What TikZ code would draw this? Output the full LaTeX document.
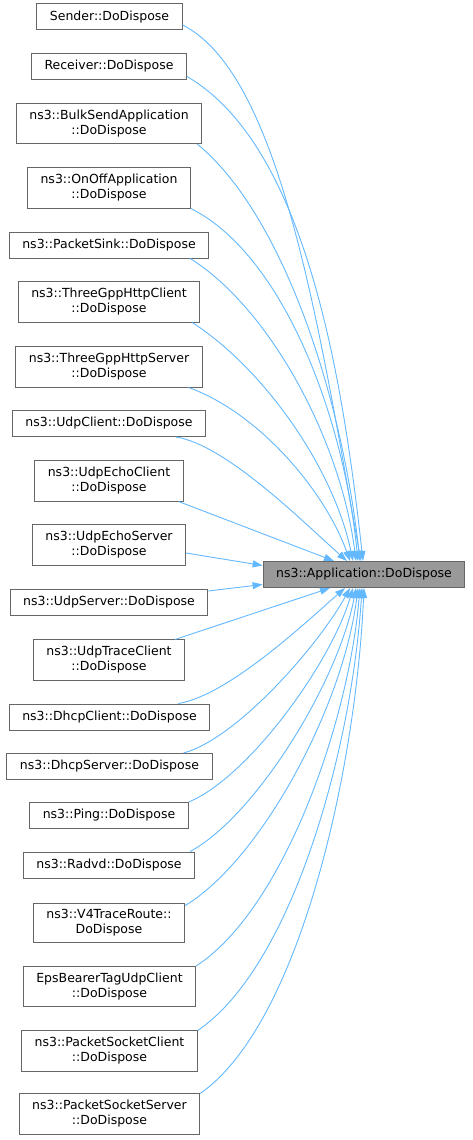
\documentclass[tikz,border=0pt]{standalone}
\usepackage{fontspec}
\setmainfont{DejaVu Sans}
\usetikzlibrary{arrows.meta}
\definecolor{edgeblue}{HTML}{63B8FF}
\definecolor{boxgray}{HTML}{666666}
\definecolor{appgray}{HTML}{999999}
\begin{document}
\begin{tikzpicture}[
      x=1pt, y=-1pt,
      fn/.style={rectangle, draw=boxgray, line width=1pt, fill=white, align=center,
        font=\fontsize{12.5}{15}\selectfont, inner xsep=13pt, inner ysep=6.5pt, minimum height=26pt},
      target/.style={fn, fill=appgray},
      edge/.style={-{Triangle[length=10pt,width=7pt]}, line width=0.9pt, draw=edgeblue}
    ]
    \useasboundingbox (0,0) rectangle (472,1140);

    \node[target] (app) at (364,574.5) {ns3::Application::DoDispose};

    \node[fn] (sender) at (109.5,17) {Sender::DoDispose};
    \node[fn] (receiver) at (109,66.5) {Receiver::DoDispose};
    \node[fn] (bulksend) at (109,123.5) {ns3::BulkSendApplication\\::DoDispose};
    \node[fn] (onoff) at (109,188) {ns3::OnOffApplication\\::DoDispose};
    \node[fn] (pktsink) at (109,245) {ns3::PacketSink::DoDispose};
    \node[fn] (httpclient) at (109,302) {ns3::ThreeGppHttpClient\\::DoDispose};
    \node[fn] (httpserver) at (109,367) {ns3::ThreeGppHttpServer\\::DoDispose};
    \node[fn] (udpclient) at (109,423.5) {ns3::UdpClient::DoDispose};
    \node[fn] (echoclient) at (109,481) {ns3::UdpEchoClient\\::DoDispose};
    \node[fn] (echoserver) at (109,545) {ns3::UdpEchoServer\\::DoDispose};
    \node[fn] (udpserver) at (109,602) {ns3::UdpServer::DoDispose};
    \node[fn] (traceclient) at (109,660) {ns3::UdpTraceClient\\::DoDispose};
    \node[fn] (dhcpclient) at (109.5,717) {ns3::DhcpClient::DoDispose};
    \node[fn] (dhcpserver) at (109.5,766.5) {ns3::DhcpServer::DoDispose};
    \node[fn] (ping) at (109,815.5) {ns3::Ping::DoDispose};
    \node[fn] (radvd) at (109,865) {ns3::Radvd::DoDispose};
    \node[fn] (v4trace) at (109,923) {ns3::V4TraceRoute::\\DoDispose};
    \node[fn] (epsbearer) at (109.5,986.5) {EpsBearerTagUdpClient\\::DoDispose};
    \node[fn] (psclient) at (109.5,1051) {ns3::PacketSocketClient\\::DoDispose};
    \node[fn] (psserver) at (109.5,1114) {ns3::PacketSocketServer\\::DoDispose};

    \draw[edge] ([yshift=-8pt]sender.east) .. controls +(100,50) and +(-40,-220) .. ([xshift=-3pt]app.north);
    \draw[edge] ([yshift=-10pt]receiver.east) .. controls +(120,70) and +(-20,-180) .. ([xshift=-1pt]app.north);
    \draw[edge] ([xshift=-5pt]bulksend.south east) .. controls +(80,65) and +(-20,-180) .. ([xshift=-4pt]app.north);
    \draw[edge] (onoff.south east) .. controls +(90,45) and +(-15,-150) .. ([xshift=-6pt]app.north);
    \draw[edge] ([xshift=-19pt]pktsink.south east) .. controls +(80,50) and +(-15,-120) .. ([xshift=-8pt]app.north);
    \draw[edge] ([xshift=-8pt]httpclient.south east) .. controls +(70,45) and +(-20,-95) .. ([xshift=-11pt]app.north);
    \draw[edge] ([xshift=-14pt]httpserver.south east) .. controls +(70,25) and +(-25,-70) .. ([xshift=-14pt]app.north);
    \draw[edge] ([xshift=-30pt]udpclient.south east) .. controls +(50,8) and +(-45,-40) .. ([xshift=-17pt]app.north);
    \draw[edge] ([xshift=-5pt]echoclient.south east) -- ([xshift=-30pt]app.north);
    \draw[edge] ([yshift=-8pt]echoserver.east) -- ([yshift=9pt]app.west);
    \draw[edge] ([yshift=11pt]udpserver.east) -- ([yshift=-10pt]app.west);
    \draw[edge] ([xshift=-10pt]traceclient.north east) -- ([xshift=-34pt]app.south);
    \draw[edge] ([xshift=-32pt]dhcpclient.north east) .. controls +(50,-8) and +(-40,35) .. ([xshift=-19pt]app.south);
    \draw[edge] ([xshift=-29pt]dhcpserver.north east) .. controls +(55,-15) and +(-30,55) .. ([xshift=-14pt]app.south);
    \draw[edge] (ping.north east) .. controls +(60,-25) and +(-22,75) .. ([xshift=-11pt]app.south);
    \draw[edge] ([xshift=-5pt]radvd.north east) .. controls +(65,-35) and +(-18,95) .. ([xshift=-8pt]app.south);
    \draw[edge] ([yshift=-3pt]v4trace.north east) .. controls +(75,-45) and +(-15,120) .. ([xshift=-6pt]app.south);
    \draw[edge] (epsbearer.north east) .. controls +(85,-55) and +(-12,140) .. ([xshift=-4pt]app.south);
    \draw[edge] (psclient.north east) .. controls +(95,-65) and +(-10,160) .. ([xshift=-2pt]app.south);
    \draw[edge] (psserver.north east) .. controls +(100,-70) and +(-8,180) .. (app.south);
  \end{tikzpicture}
\end{document}
